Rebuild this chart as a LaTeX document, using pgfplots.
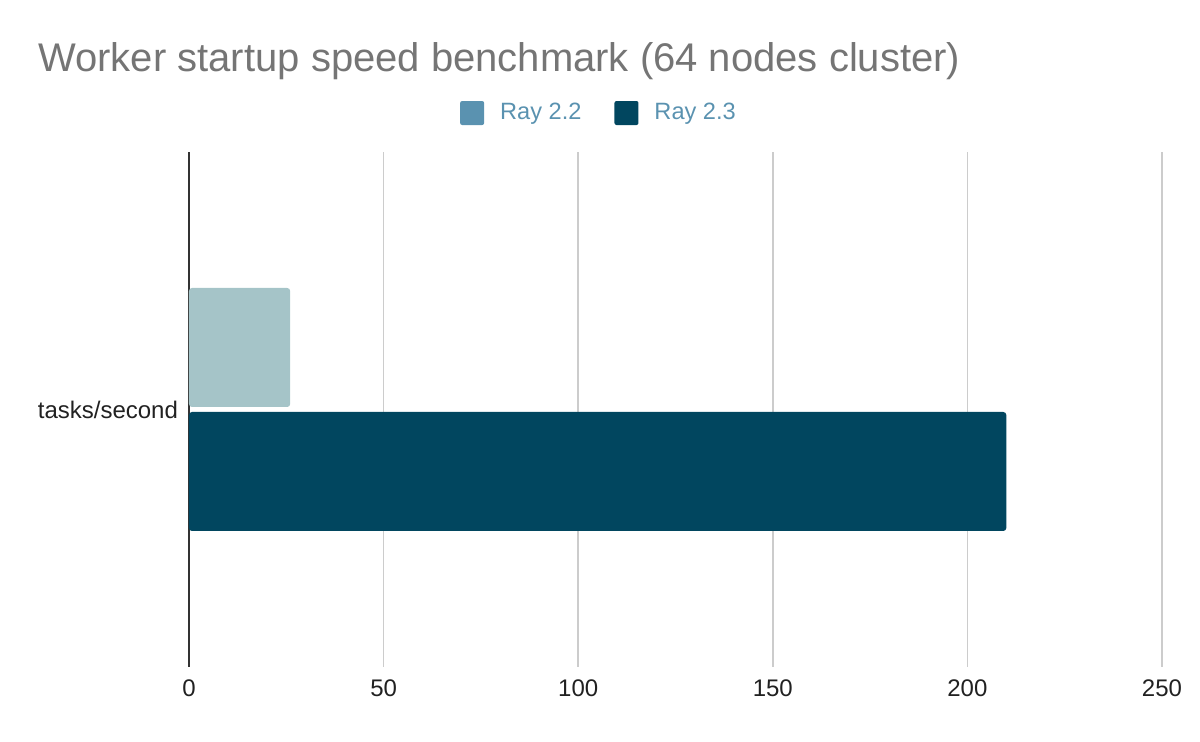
\documentclass[border=0pt]{standalone}
\usepackage{pgfplots}
\pgfplotsset{compat=1.18}
\usepackage{fontspec}
\setmainfont{Liberation Sans}
\definecolor{barA}{HTML}{A5C4C8}
\definecolor{legA}{HTML}{5A92B0}
\definecolor{barB}{HTML}{01465F}
\definecolor{titlegray}{HTML}{757575}
\definecolor{gridgray}{HTML}{CCCCCC}
\definecolor{axisdark}{HTML}{333333}
\begin{document}
\begin{tikzpicture}
\useasboundingbox (-94.5pt,-37.5pt) rectangle (505.5pt,333.5pt);
\begin{axis}[
  at={(0,0)}, anchor=south west,
  scale only axis,
  width=486.5pt, height=257.5pt,
  xbar,
  xmin=0, xmax=250,
  ymin=-1, ymax=1,
  xtick={0,50,100,150,200,250},
  ytick={0}, yticklabels={tasks/second},
  /pgf/number format/assume math mode=true,
  tick label style={font=\fontsize{12}{14}\selectfont, text=black!87},
  xticklabel style={yshift=-3pt},
  yticklabel style={xshift=-2pt},
  major tick length=0pt,
  axis lines*=left,
  x axis line style={draw=none},
  y axis line style={draw=axisdark, line width=0.9pt, -},
  xmajorgrids,
  major grid style={draw=gridgray, line width=0.8pt},
  bar width=59.5pt,
  legend columns=2,
  legend style={draw=none, fill=none, at={(0.4224,1.0757)}, anchor=center,
    font=\fontsize{11.8}{13}\selectfont, text=legA,
    /tikz/every odd column/.append style={column sep=6pt},
    /tikz/every even column/.append style={column sep=14.5pt}},
]
\addplot[fill=barA, draw=none, rounded corners=1.5pt, bar shift=31pt,
  legend image code/.code={\fill[legA, rounded corners=1pt] (0pt,-6pt) rectangle (12pt,6pt);}]
  coordinates {(26,0)};
\addlegendentry{Ray 2.2}
\addplot[fill=barB, draw=none, rounded corners=1.5pt, bar shift=-31pt,
  legend image code/.code={\fill[barB, rounded corners=1pt] (0pt,-6pt) rectangle (12pt,6pt);}]
  coordinates {(210,0)};
\addlegendentry{Ray 2.3}
\end{axis}
\node[anchor=base west, inner sep=0pt, text=titlegray, font=\fontsize{20}{24}\selectfont] at (-75.5pt,297.5pt) {Worker startup speed benchmark (64 nodes cluster)};
\end{tikzpicture}
\end{document}
